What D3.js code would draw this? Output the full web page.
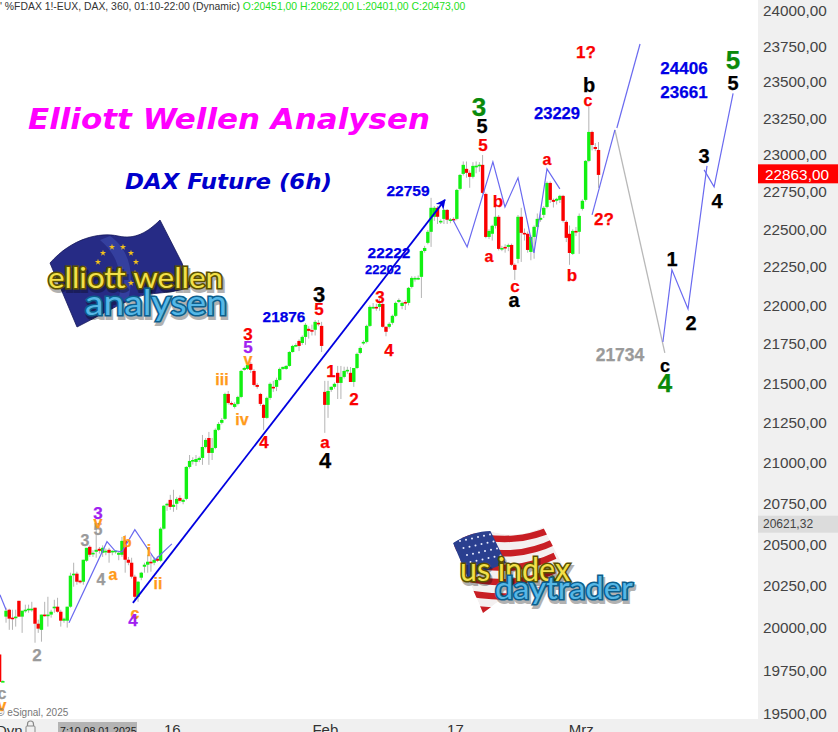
<!DOCTYPE html>
<html>
<head>
<meta charset="utf-8">
<style>
html,body{margin:0;padding:0;background:#fff;overflow:hidden}
svg{display:block;font-family:"Liberation Sans",Arial,sans-serif}
</style>
<script src="https://cdn.jsdelivr.net/npm/d3@7/dist/d3.min.js"></script>
</head>
<body>
<svg id="c" width="838" height="732"></svg>
<script>
// ---- price data (6h bars, FDAX) ----
const opens=[19840,19680,20063,20104,20057,20057,20157,20063,20098,20104,20104,20116,20021,19985,20075,20069,20075,20116,20122,20092,20039,20039,20122,20313,20319,20277,20271,20397,20481,20439,20451,20469,20445,20451,20463,20451,20454,20433,20433,20517,20403,20385,20301,20181,20295,20361,20373,20391,20385,20409,20397,20591,20737,20767,20724,20743,20779,20755,20773,20970,21007,21001,21013,21026,21094,21150,21057,21088,21201,21245,21270,21427,21370,21345,21364,21408,21580,21586,21618,21573,21484,21427,21358,21276,21402,21472,21472,21516,21586,21586,21605,21694,21733,21765,21752,21791,21843,21835,21837,21882,21862,21440,21358,21453,21472,21561,21497,21535,21573,21561,21503,21592,21688,21752,21759,21862,21979,21985,21985,22004,21856,21856,21882,21927,22017,21991,22017,22011,22115,22168,22168,22181,22351,22405,22478,22578,22638,22544,22564,22624,22555,22564,22564,22765,22866,22900,22873,22846,22915,22920,22927,22731,22444,22465,22518,22578,22365,22378,22378,22391,22260,22299,22578,22471,22465,22345,22444,22511,22558,22591,22644,22805,22691,22685,22691,22718,22544,22465,22332,22484,22478,22631,22691,22954,23151,23048,23028];
const highs=[19840,19690,20116,20110,20104,20104,20157,20098,20134,20134,20151,20116,20045,20075,20151,20181,20104,20163,20175,20104,20057,20122,20325,20385,20331,20283,20403,20475,20490,20460,20627,20480,20490,20470,20475,20460,20460,20450,20541,20553,20420,20415,20313,20275,20330,20385,20433,20433,20420,20425,20600,20735,20750,20798,20829,20785,20795,20775,20975,21044,21030,21044,21035,21169,21150,21188,21150,21210,21250,21275,21435,21446,21380,21375,21415,21580,21600,21625,21630,21585,21495,21434,21364,21410,21500,21510,21530,21595,21600,21610,21700,21740,21750,21775,21800,21880,21860,21870,21900,21900,21888,21510,21510,21475,21500,21605,21605,21600,21600,21598,21592,21690,21730,21770,21870,21995,22010,22005,22040,22020,21860,21885,21935,22020,22040,22020,22030,22115,22185,22185,22190,22355,22385,22490,22705,22650,22650,22560,22630,22630,22570,22575,22765,22865,22950,22950,22890,22945,22950,22945,22994,22740,22495,22525,22644,22590,22385,22395,22400,22400,22270,22590,22638,22500,22480,22455,22520,22600,22600,22650,22815,22815,22700,22705,22725,22725,22555,22520,22495,22510,22600,22695,22960,23335,23160,23075,23082];
const lows=[19680,19680,20027,19985,19985,20004,20063,19967,20086,20086,20092,19909,19967,19915,20063,20004,20057,20086,20086,20004,20027,19998,20116,20241,20253,20260,20253,20390,20420,20420,20415,20440,20420,20430,20385,20430,20440,20400,20421,20325,20370,20290,20163,20151,20280,20325,20325,20331,20370,20390,20390,20585,20700,20706,20694,20706,20750,20740,20765,20960,20985,20976,21000,20983,21085,20983,21013,21080,21195,21235,21263,21360,21355,21335,21355,21400,21575,21580,21560,21475,21460,21351,21201,21270,21390,21440,21445,21510,21580,21580,21600,21690,21725,21700,21740,21740,21780,21800,21800,21860,21694,21182,21276,21440,21460,21395,21395,21525,21555,21503,21472,21585,21680,21740,21750,21855,21970,21960,21960,21850,21795,21845,21870,21920,22010,21970,21965,21995,22105,22150,22160,22043,22340,22395,22378,22550,22530,22530,22530,22530,22535,22545,22555,22755,22855,22840,22772,22835,22870,22880,22730,22435,22430,22420,22500,22355,22350,22340,22350,22252,22161,22270,22279,22420,22340,22290,22300,22500,22545,22570,22635,22670,22640,22660,22670,22540,22410,22260,22325,22450,22332,22620,22680,22945,23025,23020,22772];
const closes=[19680,19685,20098,20051,20051,20063,20063,20098,20104,20110,20110,20021,19992,20075,20069,20075,20092,20122,20092,20039,20051,20122,20307,20319,20271,20271,20403,20475,20433,20445,20463,20457,20475,20457,20445,20457,20458,20445,20517,20403,20385,20301,20181,20271,20325,20373,20391,20385,20403,20397,20591,20731,20743,20724,20737,20773,20761,20767,20970,21007,21013,21019,21026,21094,21138,21057,21088,21201,21238,21263,21427,21370,21364,21364,21408,21573,21592,21611,21580,21484,21472,21364,21276,21402,21491,21466,21516,21586,21599,21605,21694,21733,21739,21733,21791,21869,21830,21830,21888,21875,21733,21358,21446,21472,21491,21497,21535,21573,21580,21503,21592,21682,21720,21759,21862,21985,21985,21979,22004,21856,21824,21875,21927,22011,22030,22011,22011,22109,22174,22174,22174,22351,22371,22478,22638,22638,22578,22551,22624,22558,22561,22558,22758,22859,22927,22873,22846,22920,22921,22928,22738,22444,22484,22518,22578,22365,22371,22371,22391,22260,22227,22578,22471,22465,22358,22444,22511,22564,22571,22638,22805,22691,22678,22698,22718,22551,22438,22338,22484,22478,22584,22685,22954,23151,23062,23035,22859];

// ---- Elliott wave overlay lines (bar number, price) ----
const trendBars=[41.4,138.3],  trendPrices=[20145,22691];
const wave1Bars=[0.1,2],       wave1Prices=[20193,20104];
const wave2Bars=[21.55,33.35,35.84,38,42,48.3,53.5], wave2Prices=[20027,20512,20457,20451,20585,20403,20499];
const wave3Bars=[140.8,145.2,153.2,156.95,161,165.96,170,174], wave3Prices=[22558,22378,22947,22644,22839,22338,22900,22765];
const wave4Bars=[184,191.1],   wave4Prices=[22591,23165];
const wave5Bars=[191.7,198.9], wave5Prices=[23178,23760];
const wave6Bars=[206,208.8,213.8,219.7], wave6Prices=[21758,22227,21972,22920];
const wave7Bars=[218.8,221.9,227.8],     wave7Prices=[22893,22779,23417];
const greyBars=[191.1,206.6],  greyPrices=[23165,21688];

// ---- axes ----
const priceTicks=[24000,23750,23500,23250,23000,22750,22500,22250,22000,21750,21500,21250,21000,20750,20500,20250,20000,19750,19500];
const timeTickBars=[53.5,101,141.4,180.5];
const timeTickLabels=["16","Feb","17","Mrz"];
const lastPrice=22863, prevPrice=20621.32;

const svg=d3.select("#c");
const x=d3.scaleLinear().domain([0,186]).range([-0.4,598.5]);
const y=d3.scaleLog().domain([19500,24000]).range([713,10]);
const fmtComma=v=>d3.format(".2f")(v).replace(".",",");

const defs=svg.append("defs");
defs.append("clipPath").attr("id","plot").append("rect").attr("width",758).attr("height",719);
defs.append("marker").attr("id","arr").attr("viewBox","0 0 10 10").attr("refX",9).attr("refY",5)
  .attr("markerWidth",5.5).attr("markerHeight",5.5).attr("orient","auto")
  .append("path").attr("d","M0,0L10,5L0,10L3,5Z").attr("fill","#0000e0");

// logos under the chart marks
drawEuLogo(); drawUsLogo();

const plot=svg.append("g").attr("clip-path","url(#plot)");
const idx=d3.range(opens.length);
plot.append("g").selectAll("line").data(idx).join("line")
  .attr("x1",i=>x(i)).attr("x2",i=>x(i)).attr("y1",i=>y(highs[i])).attr("y2",i=>y(lows[i]))
  .attr("stroke","#b4b4b4").attr("stroke-width",1);
plot.append("g").selectAll("rect").data(idx).join("rect")
  .attr("x",i=>x(i)-1.7).attr("width",3.4)
  .attr("y",i=>y(Math.max(opens[i],closes[i])))
  .attr("height",i=>Math.max(1.6,Math.abs(y(opens[i])-y(closes[i]))))
  .attr("fill",i=>closes[i]>=opens[i]?"#12f012":"#fa0000");

const line=(b,p)=>d3.line()(b.map((v,k)=>[x(v),y(p[k])]));
const thin=[[wave1Bars,wave1Prices],[wave2Bars,wave2Prices],[wave3Bars,wave3Prices],[wave4Bars,wave4Prices],[wave5Bars,wave5Prices],[wave6Bars,wave6Prices],[wave7Bars,wave7Prices]];
plot.append("path").attr("d",line(greyBars,greyPrices)).attr("fill","none").attr("stroke","#b8b8b8").attr("stroke-width",1.3);
plot.append("g").selectAll("path").data(thin).join("path")
  .attr("d",d=>line(d[0],d[1])).attr("fill","none").attr("stroke","#6a6af0").attr("stroke-width",1.2);
plot.append("path").attr("d",line(trendBars,trendPrices)).attr("fill","none").attr("stroke","#0000e0").attr("stroke-width",1.8).attr("marker-end","url(#arr)");

// annotations: text, centre x, centre y, size, colour
const R="#fa0000",K="#000",G="#0a8a0a",B="#0000e6",O="#ff9a1a",P="#a020f0",Y="#9a9a9a";
const notes=[
["3",319,294,22,K],["5",319,309,17,R],["21876",284,316,15.4,B],
["3",248,334,17,R],["5",248,347,17,P],["v",248,359,16,O],["iii",222,379,16,O],["iv",242,419,16,O],["4",264,442,17,R],
["a",325,442,17,R],["4",325,460,22,K],["1",331,371,17,R],["2",354,399,17,R],["3",380,297,17,R],["4",389,350,17,R],
["22222",389,252,15.4,B],["22202",383,269,13,B],["22759",408,190,15.5,B],
["3",479,107,26,G],["5",482,126,20,K],["5",483,145,17,R],["b",498,201,17,R],["a",489,256,16,R],["c",515,286,17,R],["a",514,300,20,K],
["a",547,159,16,R],["b",572,275,17,R],["23229",557,113,16.6,B],["c",588,100,16,R],["b",589,85,20,K],["1?",586,52,17,R],["2?",604,219,17,R],
["24406",684,68,17,B],["23661",684,92,17,B],["5",733,60,26,G],["5",733,83,20,K],["3",704,156,20,K],["4",717,201,20,K],
["1",672,259,20,K],["2",691,323,20,K],["c",665,366,18,K],["4",665,383,26,G],["21734",620,355,17.5,Y],
["5",98,529,16,Y],["3",98,513,17,P],["v",98,522,16,O],["3",85,540,16,Y],["4",101,579,16,Y],["a",113,574,16,O],["b",127,541,15,O],["i",149,550,16,O],["ii",158,583,16,O],
["c",135,613,16,O],["4",133,620,17,P],["2",37,655,17,Y],["c",2,693,16,Y],["v",2,705,16,O]
];
svg.append("g").selectAll("text").data(notes).join("text")
  .attr("x",d=>d[1]).attr("y",d=>d[2]).attr("font-size",d=>d[3]).attr("fill",d=>d[4])
  .attr("stroke",d=>d[4]).attr("stroke-width",.25)
  .attr("font-weight","bold").attr("text-anchor","middle").attr("dominant-baseline","central").text(d=>d[0]);

svg.append("text").attr("x",28).attr("y",129).attr("font-family","DejaVu Sans").attr("font-size",29).attr("font-weight","bold").attr("font-style","italic")
  .attr("textLength",402).attr("lengthAdjust","spacingAndGlyphs")
  .attr("fill","#ff00ff").text("Elliott Wellen Analysen");
svg.append("text").attr("x",125).attr("y",189).attr("font-family","DejaVu Sans").attr("font-size",22).attr("font-weight","bold").attr("font-style","italic")
  .attr("textLength",207).attr("lengthAdjust","spacingAndGlyphs")
  .attr("fill","#0000cc").text("DAX Future (6h)");

// header
const head=svg.append("text").attr("x",0).attr("y",10).attr("font-size",10.4).attr("fill","#333");
head.append("tspan").text("' %FDAX 1!-EUX, DAX, 360, 01:10-22:00 (Dynamic) ");
head.append("tspan").attr("fill","#22e022").text("O:20451,00 H:20622,00 L:20401,00 C:20473,00");
svg.append("text").attr("x",-3).attr("y",716).attr("font-size",10).attr("fill","#777").text("© eSignal, 2025");

// panels + axes
svg.append("rect").attr("x",758).attr("width",80).attr("height",732).attr("fill","#f0f0f0");
svg.append("rect").attr("y",719).attr("width",838).attr("height",13).attr("fill","#f0f0f0");

const yAxis=svg.append("g").attr("transform","translate(758,0.7)")
  .call(d3.axisRight(y).tickValues(priceTicks).tickSize(0).tickPadding(5).tickFormat(fmtComma));
yAxis.select(".domain").remove();
yAxis.selectAll("text").attr("font-size",15.3).attr("font-family","Liberation Sans").attr("fill","#444");

svg.append("rect").attr("x",758).attr("y",y(lastPrice)-10).attr("width",80).attr("height",19).attr("fill","#ff0000");
svg.append("text").attr("x",797).attr("y",y(lastPrice)+.5).attr("font-size",15.3).attr("fill","#fff")
  .attr("text-anchor","middle").attr("dominant-baseline","central").text(fmtComma(lastPrice));
svg.append("rect").attr("x",758).attr("y",y(prevPrice)-8).attr("width",80).attr("height",17).attr("fill","#dcdcdc");
svg.append("text").attr("x",763).attr("y",y(prevPrice)).attr("font-size",12).attr("fill","#444")
  .attr("dominant-baseline","central").text(fmtComma(prevPrice));

const xAxis=svg.append("g").attr("transform","translate(0,719)")
  .call(d3.axisBottom(x).tickValues(timeTickBars).tickSize(0).tickPadding(5).tickFormat((d,i)=>timeTickLabels[i]));
xAxis.select(".domain").remove();
xAxis.selectAll("text").attr("font-size",15).attr("font-family","Liberation Sans").attr("fill","#333");

svg.append("text").attr("x",-4).attr("y",736).attr("font-size",15).attr("fill","#333").text("Dyn");
svg.append("rect").attr("x",26).attr("y",726).attr("width",9).attr("height",8).attr("rx",1).attr("fill","none").attr("stroke","#888");
svg.append("path").attr("d","M27.5,726v-2a3,3 0 0 1 6,0v2").attr("fill","none").attr("stroke","#888").attr("stroke-width",1.2);
svg.append("rect").attr("x",58).attr("y",722).attr("width",79).attr("height",10).attr("fill","#b4b4b4");
svg.append("text").attr("x",60).attr("y",735).attr("font-size",10.6).attr("fill","#222").text("7:10 08.01.2025");

function logoText(g,s,tx,ty,len,size,fill,stroke){
  g.append("text").attr("x",tx+1.5).attr("y",ty+2.5).attr("font-family","Lato").attr("font-weight",400)
    .attr("font-size",size).attr("textLength",len).attr("lengthAdjust","spacingAndGlyphs")
    .attr("fill","#000").attr("opacity",.3).attr("stroke","#000").attr("stroke-width",4).text(s);
  g.append("text").attr("x",tx).attr("y",ty).attr("font-family","Lato").attr("font-weight",400)
    .attr("font-size",size).attr("textLength",len).attr("lengthAdjust","spacingAndGlyphs")
    .attr("fill",fill).attr("stroke",stroke).attr("stroke-width",3.2).attr("paint-order","stroke").text(s);
}
function drawEuLogo(){
  const g=svg.append("g");
  g.append("path").attr("d","M50,263C72,238 100,232 118,236C135,240 148,232 160,220L182,263L190,287C165,296 150,290 130,300C112,308 95,318 77,327Z")
    .attr("fill","#262b85").attr("stroke","#15185a").attr("stroke-width",.8);
  g.append("path").attr("d","M110,236C130,250 135,275 128,300L118,304C124,275 118,255 100,240Z").attr("fill","#3a48a8").attr("opacity",.7);
  [[103,253],[112,247],[123,247],[131,253],[136,262],[135,273],[131,283],[98,262]].forEach(p=>
    g.append("path").attr("d",d3.symbol(d3.symbolStar,12)()).attr("transform",`translate(${p[0]},${p[1]})`).attr("fill","#f3c11c"));
  logoText(g,"elliott wellen",48,288,175,28,"#f2e04a","#5b5000");
  logoText(g,"analysen",85,315,142,35,"#56b7e6","#0c5f8d");
}
function drawUsLogo(){
  const g=svg.append("g");
  const flag="M453,543C465,535 480,531 490,531C510,537 525,535 543,527L572,583C550,590 535,585 515,592C503,597 493,606 483,613Z";
  defs.append("clipPath").attr("id","flagclip").append("path").attr("d",flag);
  const f=g.append("g").attr("clip-path","url(#flagclip)");
  f.append("path").attr("d",flag).attr("fill","#f4f0f0");
  d3.range(0,7).forEach(k=>{
    const o=k*2*6.7;
    f.append("path").attr("d",`M450,${533+o}C500,${543+o} 525,${540+o} 552,${527+o}`).attr("transform",`translate(${-k*0.5+4},${k*1})`)
      .attr("fill","none").attr("stroke","#c81e24").attr("stroke-width",6.5);
  });
  f.append("path").attr("d","M450,545C462,535 480,530 490,530L506,563L468,578Z").attr("fill","#2a3f8f");
  d3.range(0,24).forEach(k=>{
    const c=k%6,r=Math.floor(k/6);
    f.append("circle").attr("cx",460+c*6+r*3.5).attr("cy",541-c*1.3+r*7).attr("r",1).attr("fill","#e8ecff");
  });
  logoText(g,"us index",460,581,110,32,"#f2e04a","#5b5000");
  logoText(g,"daytrader",495,599,138,31,"#56b7e6","#0c5f8d");
}
</script>
</body>
</html>
